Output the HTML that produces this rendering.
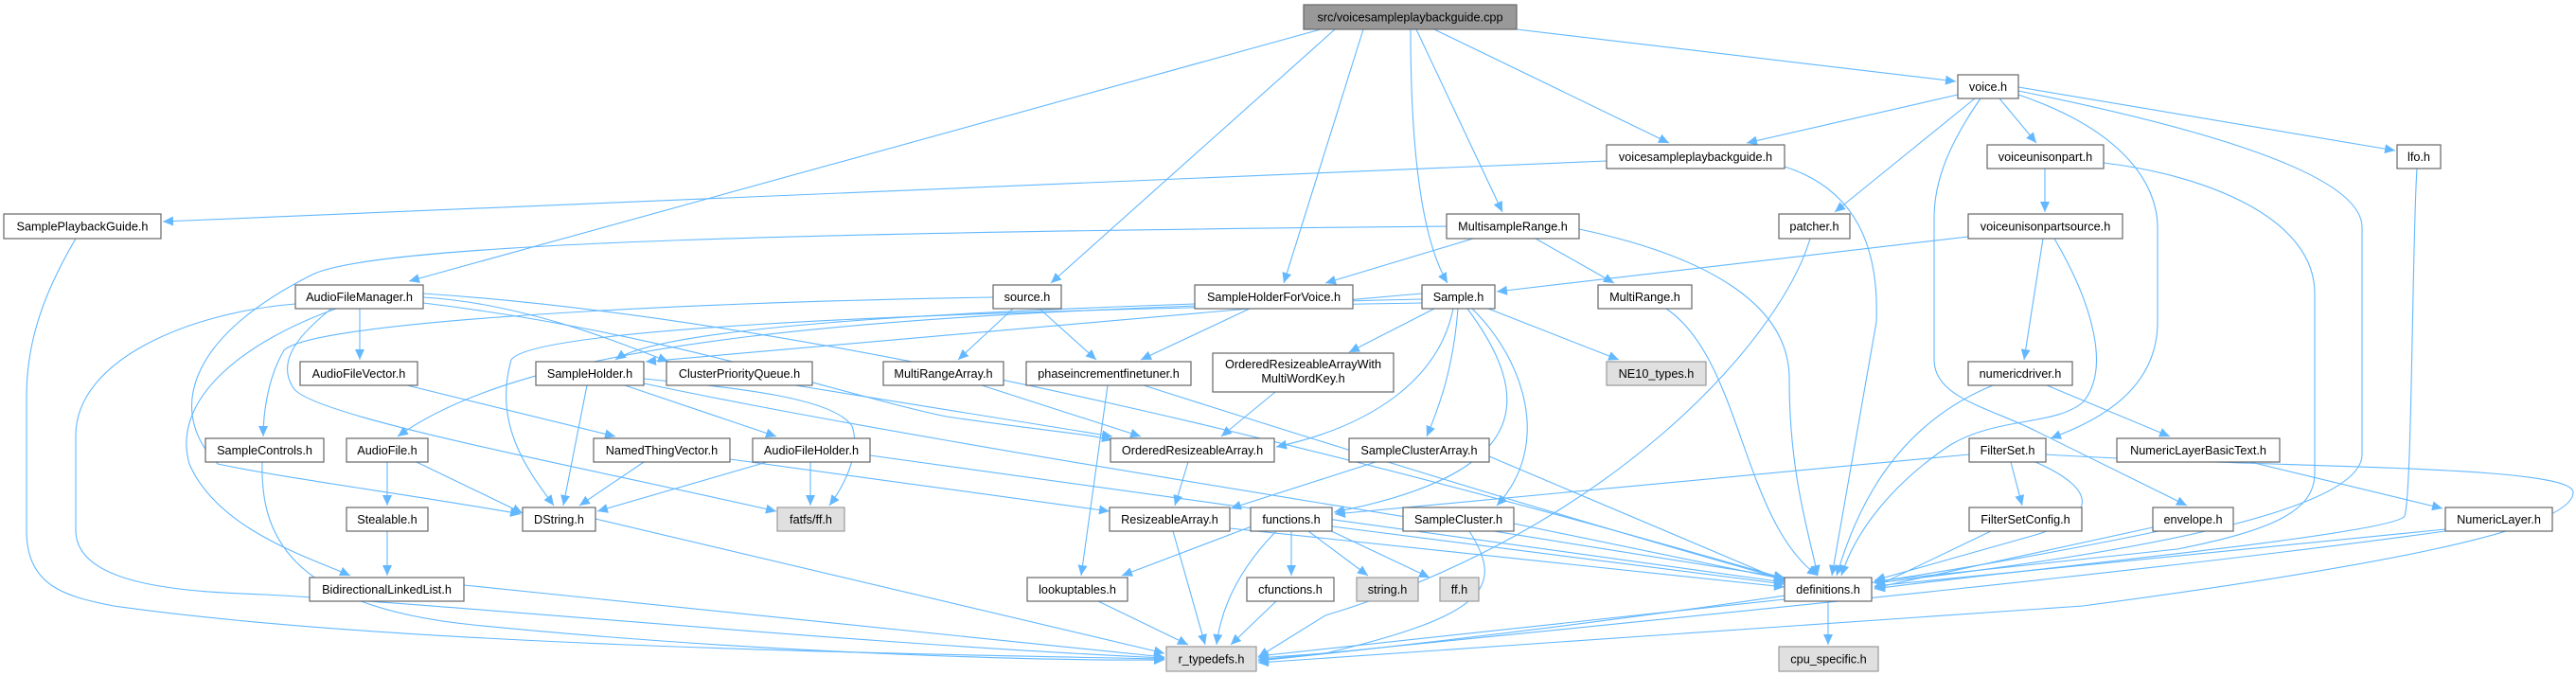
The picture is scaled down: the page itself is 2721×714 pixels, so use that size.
<!DOCTYPE html>
<html><head><meta charset="utf-8"><style>
html,body{margin:0;padding:0;background:#fff}
svg{display:block}
text{font-family:"Liberation Sans",sans-serif;font-size:12.7px;fill:#000;text-anchor:middle}
.e{fill:none;stroke:#63b8ff;stroke-width:1.1;marker-end:url(#a)}
.n{fill:#fff;stroke:#666;stroke-width:1.2}
.g{fill:#e0e0e0;stroke:#999;stroke-width:1.2}
</style></head><body>
<svg width="2721" height="714" viewBox="0 0 2721 714" xmlns="http://www.w3.org/2000/svg">
<defs><marker id="a" markerUnits="userSpaceOnUse" markerWidth="12" markerHeight="10" refX="11" refY="5" orient="auto"><path d="M0,0 L11,5 L0,10 z" fill="#63b8ff"/></marker></defs>
<g>
<path class="e" d="M1395,31 L432,297"/>
<path class="e" d="M1410,31 L1110,299"/>
<path class="e" d="M1440,31 L1356,299"/>
<path class="e" d="M1490,31 C1490,150 1500,250 1529,299"/>
<path class="e" d="M1496,31 L1587,224"/>
<path class="e" d="M1515,31 L1763,151"/>
<path class="e" d="M1602,31 L2066,86"/>
<path class="e" d="M2068,100 L1845,151"/>
<path class="e" d="M2086,104 L1938,224"/>
<path class="e" d="M2112,104 L2151,151"/>
<path class="e" d="M2132,92 L2530,159"/>
<path class="e" d="M2132,96 C2300,130 2495,180 2495,240 L2495,480 C2495,540 2250,585 1980,616"/>
<path class="e" d="M2132,100 C2250,140 2279,200 2279,240 L2279,340 C2279,420 2200,450 2166,463"/>
<path class="e" d="M2092,104 C2060,150 2043,190 2043,230 L2043,380 C2043,420 2100,430 2150,455 L2310,534"/>
<path class="e" d="M2160,178 L2160,224"/>
<path class="e" d="M2222,172 C2330,185 2445,230 2445,310 L2445,500 C2445,540 2400,560 2300,580 L1980,614"/>
<path class="e" d="M2079,250 L1581,308"/>
<path class="e" d="M2158,252 L2138,380"/>
<path class="e" d="M2170,252 C2210,320 2230,390 2200,425 C2170,450 2110,440 2060,470 C2000,510 1960,560 1945,608"/>
<path class="e" d="M2105,407 C2000,450 1960,540 1940,608"/>
<path class="e" d="M2162,407 L2292,461"/>
<path class="e" d="M2377,488 L2580,537"/>
<path class="e" d="M2583,559 L1980,619"/>
<path class="e" d="M2583,561 C2300,600 1900,640 1329,697"/>
<path class="e" d="M2080,480 L1410,543"/>
<path class="e" d="M2124,488 L2136,534"/>
<path class="e" d="M2150,488 C2200,510 2230,540 2150,565 L1980,613"/>
<path class="e" d="M2161,480 C2400,495 2718,490 2718,520 C2718,560 2500,600 2200,640 L1329,700"/>
<path class="e" d="M2103,561 L1980,620"/>
<path class="e" d="M2274,557 L1980,621"/>
<path class="e" d="M2280,561 C2000,620 1600,670 1329,698"/>
<path class="e" d="M2553,178 C2548,250 2548,520 2540,545 C2530,565 2100,605 1980,622"/>
<path class="e" d="M1912,252 C1880,360 1700,560 1400,650 L1329,694"/>
<path class="e" d="M1697,170 L172,234"/>
<path class="e" d="M1885,176 C1960,200 1985,260 1982,340 L1935,608"/>
<path class="e" d="M1556,252 L1400,299"/>
<path class="e" d="M1622,252 L1705,299"/>
<path class="e" d="M1668,242 C1800,270 1890,320 1890,400 C1890,500 1910,560 1920,608"/>
<path class="e" d="M1528,239 C900,245 400,255 330,290 C190,360 180,440 230,490 C300,505 450,525 550,543"/>
<path class="e" d="M1760,326 C1840,380 1840,550 1920,608"/>
<path class="e" d="M1515,326 L1425,372"/>
<path class="e" d="M1572,326 L1710,380"/>
<path class="e" d="M1540,326 C1535,390 1520,430 1507,461"/>
<path class="e" d="M1555,326 C1610,380 1640,470 1581,534"/>
<path class="e" d="M1550,326 C1620,420 1620,500 1409,541"/>
<path class="e" d="M1535,326 C1520,400 1450,450 1348,472"/>
<path class="e" d="M1502,310 L682,382"/>
<path class="e" d="M1502,316 C900,330 560,360 420,461"/>
<path class="e" d="M1502,320 C900,330 560,350 540,380 C520,450 560,500 585,534"/>
<path class="e" d="M1320,326 L1205,380"/>
<path class="e" d="M1262,321 C1000,330 700,345 650,380"/>
<path class="e" d="M1049,314 C700,320 330,340 300,370 C282,400 278,440 278,461"/>
<path class="e" d="M1070,326 L1012,380"/>
<path class="e" d="M1098,326 L1158,380"/>
<path class="e" d="M1170,407 L1142,608"/>
<path class="e" d="M1208,407 C1500,500 1700,560 1885,612"/>
<path class="e" d="M1037,407 L1205,461"/>
<path class="e" d="M1347,414 L1290,461"/>
<path class="e" d="M1255,488 L1241,534"/>
<path class="e" d="M1239,561 L1273,681"/>
<path class="e" d="M1299,558 L1885,620"/>
<path class="e" d="M1322,556 L1185,608"/>
<path class="e" d="M1348,561 C1310,600 1290,640 1285,681"/>
<path class="e" d="M1364,561 L1364,608"/>
<path class="e" d="M1382,561 L1445,608"/>
<path class="e" d="M1400,558 L1510,610"/>
<path class="e" d="M1407,556 L1885,617"/>
<path class="e" d="M1348,635 L1300,681"/>
<path class="e" d="M1160,635 L1255,681"/>
<path class="e" d="M1453,488 L1300,537"/>
<path class="e" d="M1573,482 L1885,614"/>
<path class="e" d="M1552,561 C1590,620 1570,650 1400,690 L1329,695"/>
<path class="e" d="M1599,553 L1885,612"/>
<path class="e" d="M1931,635 L1931,681"/>
<path class="e" d="M1885,633 L1329,693"/>
<path class="e" d="M380,326 L380,380"/>
<path class="e" d="M447,314 C550,320 650,360 706,382"/>
<path class="e" d="M355,326 C260,360 180,420 200,490 C230,560 330,590 370,608"/>
<path class="e" d="M312,321 C200,330 80,380 80,460 L80,560 C80,620 200,625 280,628 C500,640 900,680 1230,695"/>
<path class="e" d="M350,326 C320,350 290,380 310,410 C330,440 600,490 820,540"/>
<path class="e" d="M447,320 C700,350 900,420 1000,440 C1100,455 1150,458 1175,465"/>
<path class="e" d="M447,310 C900,340 1500,500 1885,611"/>
<path class="e" d="M430,407 L650,461"/>
<path class="e" d="M277,488 C275,560 300,640 500,660 C800,690 1100,698 1230,697"/>
<path class="e" d="M409,488 L409,534"/>
<path class="e" d="M440,488 L552,542"/>
<path class="e" d="M409,561 L409,608"/>
<path class="e" d="M490,618 L1230,694"/>
<path class="e" d="M629,548 L1230,690"/>
<path class="e" d="M80,252 C40,320 28,370 28,420 L28,560 C28,620 70,630 120,640 C400,680 900,690 1230,696"/>
<path class="e" d="M620,407 L595,534"/>
<path class="e" d="M660,407 L820,461"/>
<path class="e" d="M680,400 C780,410 880,420 900,450 C910,480 890,515 876,534"/>
<path class="e" d="M680,405 C800,430 1000,470 1885,610"/>
<path class="e" d="M680,488 L612,534"/>
<path class="e" d="M771,485 L1172,540"/>
<path class="e" d="M810,488 L631,540"/>
<path class="e" d="M856,488 L856,534"/>
<path class="e" d="M919,481 L1885,615"/>
<path class="e" d="M840,407 L1175,461"/>
</g>
<g>
<rect x="1377" y="5" width="225" height="26" fill="#999" stroke="#666" stroke-width="1.2"/><text x="1489.5" y="22.5">src/voicesampleplaybackguide.cpp</text>
<rect class="n" x="2068" y="79" width="64" height="25"/><text x="2100" y="96">voice.h</text>
<rect class="n" x="1697" y="153" width="188" height="25"/><text x="1791" y="170">voicesampleplaybackguide.h</text>
<rect class="n" x="2099" y="153" width="123" height="25"/><text x="2160.5" y="170">voiceunisonpart.h</text>
<rect class="n" x="2532" y="153" width="46" height="25"/><text x="2555" y="170">lfo.h</text>
<rect class="n" x="4" y="226" width="166" height="26"/><text x="87" y="243.5">SamplePlaybackGuide.h</text>
<rect class="n" x="1528" y="226" width="140" height="26"/><text x="1598" y="243.5">MultisampleRange.h</text>
<rect class="n" x="1879" y="226" width="75" height="26"/><text x="1916.5" y="243.5">patcher.h</text>
<rect class="n" x="2079" y="226" width="163" height="26"/><text x="2160.5" y="243.5">voiceunisonpartsource.h</text>
<rect class="n" x="312" y="301" width="135" height="25"/><text x="379.5" y="318">AudioFileManager.h</text>
<rect class="n" x="1049" y="301" width="72" height="25"/><text x="1085" y="318">source.h</text>
<rect class="n" x="1262" y="301" width="167" height="25"/><text x="1345.5" y="318">SampleHolderForVoice.h</text>
<rect class="n" x="1502" y="301" width="77" height="25"/><text x="1540.5" y="318">Sample.h</text>
<rect class="n" x="1688" y="301" width="99" height="25"/><text x="1737.5" y="318">MultiRange.h</text>
<rect class="n" x="317" y="382" width="124" height="25"/><text x="379" y="399">AudioFileVector.h</text>
<rect class="n" x="566" y="382" width="114" height="25"/><text x="623" y="399">SampleHolder.h</text>
<rect class="n" x="704" y="382" width="154" height="25"/><text x="781" y="399">ClusterPriorityQueue.h</text>
<rect class="n" x="933" y="382" width="127" height="25"/><text x="996.5" y="399">MultiRangeArray.h</text>
<rect class="n" x="1084" y="382" width="174" height="25"/><text x="1171" y="399">phaseincrementfinetuner.h</text>
<rect class="n" x="1281" y="373" width="191" height="41"/><text x="1376.5" y="389">OrderedResizeableArrayWith</text><text x="1376.5" y="404">MultiWordKey.h</text>
<rect class="g" x="1697" y="382" width="105" height="25"/><text x="1749.5" y="399">NE10_types.h</text>
<rect class="n" x="2079" y="382" width="110" height="25"/><text x="2134" y="399">numericdriver.h</text>
<rect class="n" x="217" y="463" width="125" height="25"/><text x="279.5" y="480">SampleControls.h</text>
<rect class="n" x="366" y="463" width="86" height="25"/><text x="409" y="480">AudioFile.h</text>
<rect class="n" x="627" y="463" width="144" height="25"/><text x="699" y="480">NamedThingVector.h</text>
<rect class="n" x="795" y="463" width="124" height="25"/><text x="857" y="480">AudioFileHolder.h</text>
<rect class="n" x="1173" y="463" width="173" height="25"/><text x="1259.5" y="480">OrderedResizeableArray.h</text>
<rect class="n" x="1425" y="463" width="148" height="25"/><text x="1499" y="480">SampleClusterArray.h</text>
<rect class="n" x="2080" y="463" width="81" height="25"/><text x="2120.5" y="480">FilterSet.h</text>
<rect class="n" x="2236" y="463" width="172" height="25"/><text x="2322" y="480">NumericLayerBasicText.h</text>
<rect class="n" x="366" y="536" width="86" height="25"/><text x="409" y="553">Stealable.h</text>
<rect class="n" x="552" y="536" width="77" height="25"/><text x="590.5" y="553">DString.h</text>
<rect class="g" x="821" y="536" width="71" height="25"/><text x="856.5" y="553">fatfs/ff.h</text>
<rect class="n" x="1172" y="536" width="127" height="25"/><text x="1235.5" y="553">ResizeableArray.h</text>
<rect class="n" x="1321" y="536" width="86" height="25"/><text x="1364" y="553">functions.h</text>
<rect class="n" x="1482" y="536" width="117" height="25"/><text x="1540.5" y="553">SampleCluster.h</text>
<rect class="n" x="2080" y="536" width="119" height="25"/><text x="2139.5" y="553">FilterSetConfig.h</text>
<rect class="n" x="2274" y="536" width="85" height="25"/><text x="2316.5" y="553">envelope.h</text>
<rect class="n" x="2583" y="536" width="113" height="25"/><text x="2639.5" y="553">NumericLayer.h</text>
<rect class="n" x="327" y="610" width="163" height="25"/><text x="408.5" y="627">BidirectionalLinkedList.h</text>
<rect class="n" x="1085" y="610" width="106" height="25"/><text x="1138" y="627">lookuptables.h</text>
<rect class="n" x="1317" y="610" width="92" height="25"/><text x="1363" y="627">cfunctions.h</text>
<rect class="g" x="1433" y="610" width="65" height="25"/><text x="1465.5" y="627">string.h</text>
<rect class="g" x="1521" y="610" width="41" height="25"/><text x="1541.5" y="627">ff.h</text>
<rect class="n" x="1885" y="610" width="92" height="25"/><text x="1931" y="627">definitions.h</text>
<rect class="g" x="1232" y="683" width="95" height="26"/><text x="1279.5" y="700.5">r_typedefs.h</text>
<rect class="g" x="1879" y="683" width="105" height="26"/><text x="1931.5" y="700.5">cpu_specific.h</text>
</g>
</svg>
</body></html>
